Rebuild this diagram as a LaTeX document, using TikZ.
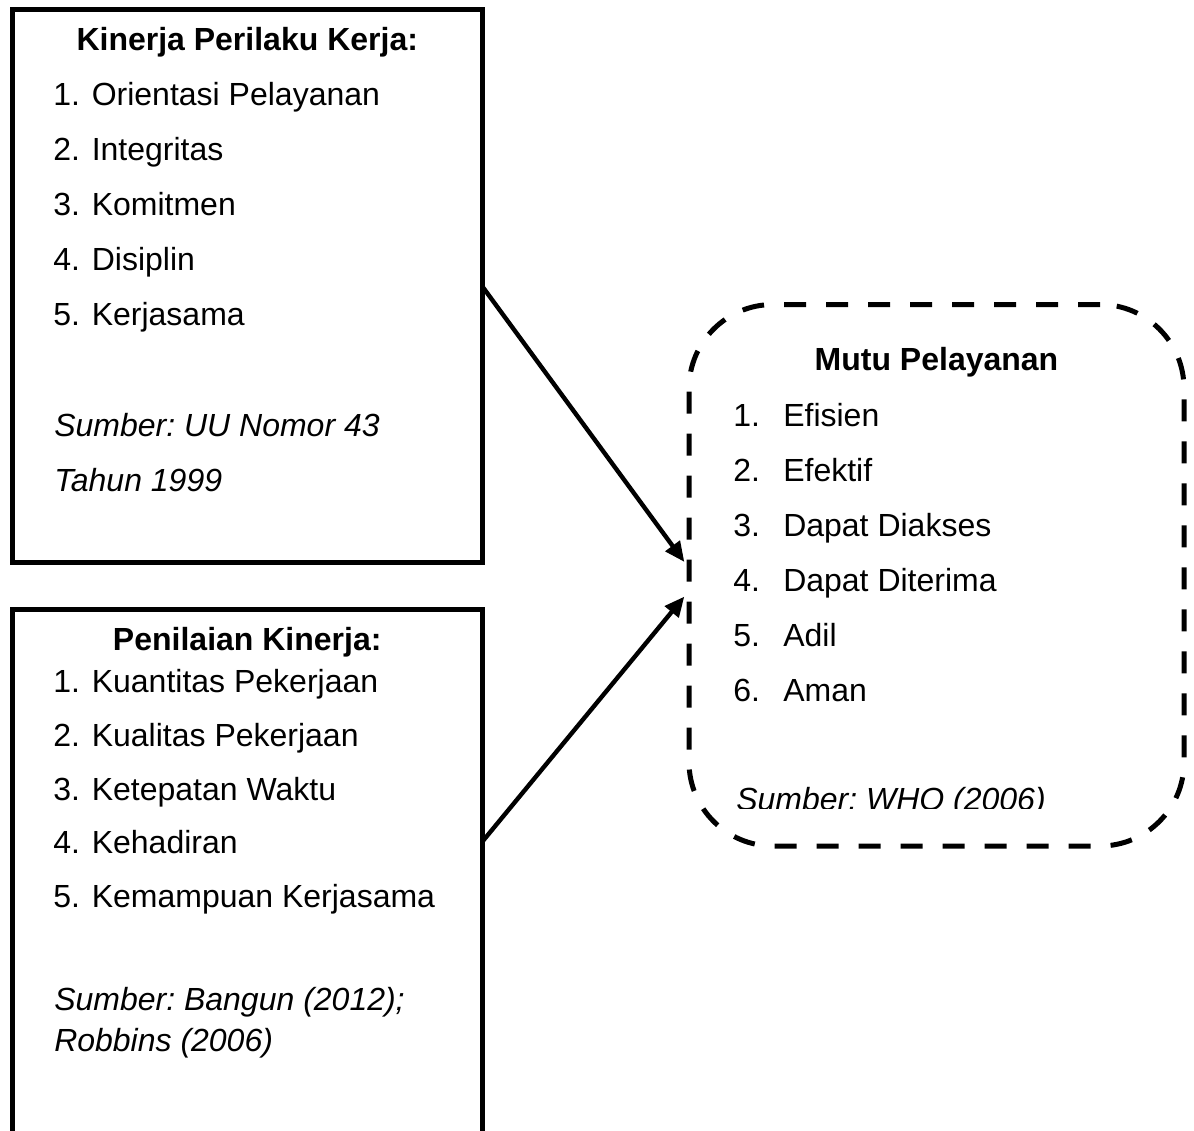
\documentclass[tikz,border=0pt]{standalone}
\usepackage{fontspec}
\setmainfont{Liberation Sans}
\usetikzlibrary{arrows.meta}
\begin{document}
\begin{tikzpicture}[x=0.75pt,y=-0.75pt,
  every node/.style={font=\fontsize{24pt}{28pt}\selectfont},
  txt/.style={anchor=base west, inner sep=0pt},
  ttl/.style={anchor=base, inner sep=0pt, font=\fontsize{24pt}{28pt}\selectfont\bfseries},
  src/.style={txt, font=\fontsize{24pt}{28pt}\selectfont\itshape},
  solidbox/.style={draw, line width=3.75pt, inner sep=0pt, outer sep=0pt},
  dashbox/.style={draw, line width=3.75pt, dash pattern=on 16.5pt off 15pt, rounded corners=63pt, inner sep=0pt, outer sep=0pt},
  link/.style={line width=3.3pt, -{Triangle[length=15pt,width=13pt]}}
]
\useasboundingbox (0,0) rectangle (1194,1130);
\clip (0,0) rectangle (1194,1130);
\fill[white] (0,0) rectangle (1194,1130);

% boxes
\node[solidbox, minimum width=352.125pt, minimum height=414pt] (box1) at (247.25,286) {};
\node[solidbox, minimum width=352.125pt, minimum height=427.875pt] (box2) at (247.25,894.75) {};
\node[dashbox, minimum width=371.25pt, minimum height=406.125pt] (mutu) at (936.5,575.25) {};

% box 1 text
\node[ttl] (t1) at (247.25,50.7) {Kinerja Perilaku Kerja:};
\node[txt] (a1) at (53,105.5) {1. Orientasi Pelayanan};
\node[txt] (a2) at (53,160.5) {2. Integritas};
\node[txt] (a3) at (53,215.5) {3. Komitmen};
\node[txt] (a4) at (53,270.5) {4. Disiplin};
\node[txt] (a5) at (53,325.5) {5. Kerjasama};
\node[src] (a6) at (54,436.7) {Sumber:\ UU Nomor 43};
\node[src] (a7) at (54,491.7) {Tahun 1999};

% box 2 text
\node[ttl] (t2) at (247.25,650) {Penilaian Kinerja:};
\node[txt] (b1) at (53,692) {1. Kuantitas Pekerjaan};
\node[txt] (b2) at (53,746) {2. Kualitas Pekerjaan};
\node[txt] (b3) at (53,800) {3. Ketepatan Waktu};
\node[txt] (b4) at (53,853.5) {4. Kehadiran};
\node[txt] (b5) at (53,907.5) {5. Kemampuan Kerjasama};
\node[src] (b6) at (54,1010.7) {Sumber:\ Bangun (2012);};
\node[src] (b7) at (54,1051.5) {Robbins (2006)};

% mutu text
\node[ttl] (t3) at (936.5,370.7) {Mutu Pelayanan};
\node[txt] (c1) at (733,426) {\makebox[37.5pt][l]{1.}Efisien};
\node[txt] (c2) at (733,481) {\makebox[37.5pt][l]{2.}Efektif};
\node[txt] (c3) at (733,536) {\makebox[37.5pt][l]{3.}Dapat Diakses};
\node[txt] (c4) at (733,591) {\makebox[37.5pt][l]{4.}Dapat Diterima};
\node[txt] (c5) at (733,646) {\makebox[37.5pt][l]{5.}Adil};
\node[txt] (c6) at (733,701) {\makebox[37.5pt][l]{6.}Aman};
\begin{scope}
  \clip (700,740) rectangle (1150,808);
  \node[src] (c7) at (736,810) {Sumber:\ WHO (2006)};
\end{scope}

% connectors
\draw[link] (box1.east) -- ([xshift=-3.5pt,yshift=10pt]mutu.west);
\draw[link] ([yshift=-174.4pt]box2.north east) -- ([xshift=-3.5pt,yshift=-16pt]mutu.west);
\end{tikzpicture}
\end{document}
